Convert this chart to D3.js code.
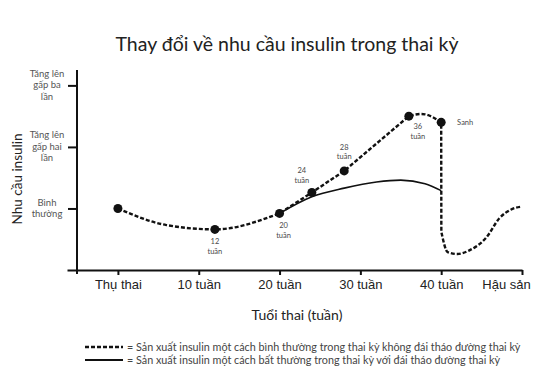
<!DOCTYPE html>
<html>
<head>
<meta charset="utf-8">
<script src="https://cdn.jsdelivr.net/npm/d3@7"></script>
<style>
  body { margin: 0; background: #fff; }
  svg { font-family: Lato, "Open Sans", sans-serif; }
  .axis path, .axis line { stroke: #111; stroke-width: 2; }
  .pt-label { font-size: 7.5px; fill: #4a4a4a; text-anchor: middle; }
</style>
</head>
<body>
<div id="chart"></div>
<script>
// x ticks (weeks) and their labels
const xTicks = [0, 10, 20, 30, 40, 50];
const xTickLabels = ["Thụ thai", "10 tuần", "20 tuần", "30 tuần", "40 tuần", "Hậu sản"];

// y ticks: multiples of normal insulin need
const yTicks = [1, 2, 3];
const yTickLabels = [["Bình", "thường"], ["Tăng lên", "gấp hai", "lần"], ["Tăng lên", "gấp ba", "lần"]];

// normal pregnancy (dashed) - [week, insulin need]
const normalEarly = [[0, 1.0], [6, 0.73], [12, 0.66], [20, 0.92]];
const normalRise = [[20, 0.92], [24, 1.26], [28, 1.61], [36, 2.5]];
const normalLate = [[36, 2.5], [38, 2.53], [40, 2.4]];
// after birth: sharp drop then recovery
const normalPostpartum = [
  [40.02, 0.62], [40.8, 0.29], [42, 0.26], [43.5, 0.32], [45.6, 0.53], [47.2, 0.84], [48.6, 0.98], [50, 1.03]
];

// gestational diabetes (solid)
const gdmCurve = [
  [20, 0.92], [24, 1.19], [28, 1.33], [32, 1.43], [35, 1.46], [38, 1.4], [40, 1.29]
];

// marked points on dashed line + labels
const markers = [
  { week: 0, value: 1.0, label: [] },
  { week: 12, value: 0.66, label: ["12", "tuần"] },
  { week: 20, value: 0.92, label: ["20", "tuần"] },
  { week: 24, value: 1.26, label: ["24", "tuần"] },
  { week: 28, value: 1.61, label: ["28", "tuần"] },
  { week: 36, value: 2.5, label: ["36", "tuần"] },
  { week: 40, value: 2.4, label: ["Sanh"] }
];
// label offsets relative to the point [dx, dy]
const labelPos = { 12: [0, 15], 20: [4, 15], 24: [-10, -19], 28: [0, -21], 36: [9, 13], 40: [24, 3] };

const legendItems = [
  { dash: true, text: "= Sản xuất insulin một cách bình thường trong thai kỳ không đái tháo đường thai kỳ" },
  { dash: false, text: "= Sản xuất insulin một cách bất thường trong thai kỳ với đái tháo đường thai kỳ" }
];

const W = 546, H = 380;
const svg = d3.select("#chart").append("svg").attr("width", W).attr("height", H);

const x = d3.scaleLinear().domain([-6.3, 50]).range([67, 522]);
const y = d3.scaleLinear().domain([0, 3.25]).range([270, 70]);

svg.append("text")
  .attr("x", 287).attr("y", 51)
  .attr("text-anchor", "middle")
  .attr("font-size", 19.5).attr("fill", "#222")
  .text("Thay đổi về nhu cầu insulin trong thai kỳ");

// x axis
const xAxis = svg.append("g").attr("class", "axis")
  .attr("transform", `translate(0,${y(0)})`)
  .call(d3.axisBottom(x).tickValues(xTicks).tickSize(5).tickSizeOuter(0)
    .tickFormat((d, i) => xTickLabels[i]));
xAxis.selectAll("text").attr("font-size", 13).attr("fill", "#222").attr("y", 9).attr("dy", "0.8em")
  .attr("dx", d => d === 50 ? -16 : 0);

// y axis
const yAxis = svg.append("g").attr("class", "axis")
  .attr("transform", `translate(77,0)`)
  .call(d3.axisLeft(y).tickValues(yTicks).tickSize(9).tickSizeOuter(0).tickFormat(""));
yAxis.select(".domain").attr("d", `M0,${y(0) + 4}V${y(3.25)}`);

yTicks.forEach((t, i) => {
  const lines = yTickLabels[i];
  const txt = svg.append("text")
    .attr("x", 47).attr("text-anchor", "middle")
    .attr("font-size", 9.5).attr("fill", "#555");
  const y0 = y(t) - (lines.length - 1) * 11.5 / 2 + 3;
  lines.forEach((l, j) => txt.append("tspan").attr("x", 47).attr("y", y0 + j * 11.5).text(l));
});

svg.append("text")
  .attr("transform", `translate(22,179) rotate(-90)`)
  .attr("text-anchor", "middle")
  .attr("font-size", 13.5).attr("fill", "#222")
  .text("Nhu cầu insulin");

svg.append("text")
  .attr("x", 297).attr("y", 320)
  .attr("text-anchor", "middle")
  .attr("font-size", 14).attr("fill", "#222")
  .text("Tuổi thai (tuần)");

const smooth = d3.line().x(d => x(d[0])).y(d => y(d[1])).curve(d3.curveMonotoneX);
const straight = d3.line().x(d => x(d[0])).y(d => y(d[1]));

svg.append("path").datum(gdmCurve)
  .attr("d", smooth).attr("fill", "none")
  .attr("stroke", "#111").attr("stroke-width", 1.6);

// one continuous dashed path built from its pieces
const dashedD = smooth(normalEarly)
  + straight(normalRise).replace(/^M/, "L")
  + d3.line().x(d => x(d[0])).y(d => y(d[1])).curve(d3.curveNatural)(normalLate).replace(/^M/, "L")
  + smooth(normalPostpartum).replace(/^M/, "L");

svg.append("path")
  .attr("d", dashedD)
  .attr("fill", "none")
  .attr("stroke", "#111").attr("stroke-width", 2.4)
  .attr("stroke-dasharray", "4,2");

svg.selectAll(".dot").data(markers).enter().append("circle")
  .attr("cx", d => x(d.week)).attr("cy", d => y(d.value))
  .attr("r", 4.5).attr("fill", "#111");

markers.filter(d => d.label.length).forEach(d => {
  const off = labelPos[d.week];
  const t = svg.append("text").attr("class", "pt-label");
  d.label.forEach((l, j) => t.append("tspan")
    .attr("x", x(d.week) + off[0])
    .attr("y", y(d.value) + off[1] + j * 9.5)
    .text(l));
});

// legend
legendItems.forEach((it, i) => {
  const ly = 347 + i * 13;
  svg.append("line")
    .attr("x1", 85).attr("x2", 123).attr("y1", ly).attr("y2", ly)
    .attr("stroke", "#111").attr("stroke-width", it.dash ? 2.4 : 2)
    .attr("stroke-dasharray", it.dash ? "4,2" : null);
  svg.append("text")
    .attr("x", 127).attr("y", ly + 3.5)
    .attr("font-size", 10.8).attr("fill", "#444")
    .text(it.text);
});
</script>
</body>
</html>
